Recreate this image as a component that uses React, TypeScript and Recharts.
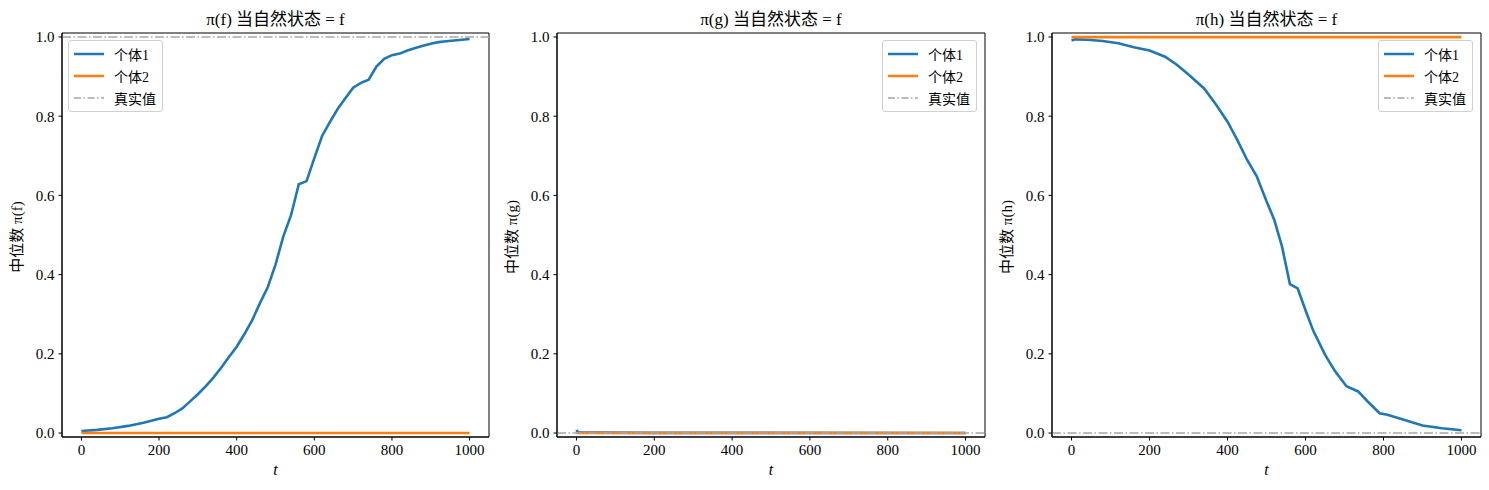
import React from 'react';
import { LineChart, Line, XAxis, YAxis, ReferenceLine, ReferenceArea } from 'recharts';

// time steps and medians
const tF = [0, 40, 80, 120, 160, 200, 220, 240, 260, 280, 300, 320, 340, 360, 380, 400, 420, 440, 460, 480, 500, 520, 540, 560, 580, 600, 620, 640, 660, 680, 700, 720, 740, 760, 780, 800, 820, 840, 860, 880, 900, 920, 940, 960, 980, 1000];
const medF1 = [0.005, 0.008, 0.012, 0.018, 0.026, 0.036, 0.04, 0.05, 0.062, 0.08, 0.098, 0.118, 0.14, 0.165, 0.192, 0.218, 0.25, 0.285, 0.328, 0.368, 0.425, 0.496, 0.55, 0.628, 0.636, 0.694, 0.75, 0.785, 0.818, 0.845, 0.872, 0.884, 0.892, 0.925, 0.945, 0.954, 0.958, 0.966, 0.972, 0.978, 0.983, 0.987, 0.989, 0.991, 0.993, 0.995];

const tG = [0, 3, 10, 50, 200, 500, 1000];
const medG1 = [0.008, 0.003, 0.001, 0.001, 0.0005, 0.0003, 0.0002];

const tH = [0, 10, 40, 80, 120, 160, 200, 240, 270, 300, 340, 370, 400, 425, 450, 475, 500, 520, 540, 560, 580, 600, 620, 650, 675, 705, 735, 760, 790, 810, 850, 900, 950, 1000];
const medH1 = [0.991, 0.994, 0.993, 0.99, 0.984, 0.974, 0.966, 0.95, 0.93, 0.905, 0.87, 0.83, 0.786, 0.74, 0.69, 0.648, 0.585, 0.538, 0.47, 0.376, 0.365, 0.31, 0.258, 0.198, 0.157, 0.118, 0.105, 0.079, 0.05, 0.046, 0.034, 0.019, 0.012, 0.007];

const tFlat = [0, 1000];
const medF2 = [0, 0];
const medG2 = [0, 0];
const medH2 = [0.9995, 0.9995];

const truthF = 1;
const truthG = 0;
const truthH = 0;

const xTicks = [0, 200, 400, 600, 800, 1000];
const yTicks = [0, 0.2, 0.4, 0.6, 0.8, 1.0];

const zip = (ts: number[], vs: number[]) => ts.map((t, i) => ({ t, v: vs[i] }));

const FONT = "'Liberation Serif', 'Noto Sans CJK SC', serif";
const BLUE = '#1f77b4';
const ORANGE = '#ff7f0e';
const GRAY = '#a6a6a6';

const panels = [
  { key: 'f', left: 0, mr: 6, one: zip(tF, medF1), two: zip(tFlat, medF2), truth: truthF, legend: 'left' },
  { key: 'g', left: 495, mr: 5, one: zip(tG, medG1), two: zip(tFlat, medG2), truth: truthG, legend: 'right' },
  { key: 'h', left: 990, mr: 4, one: zip(tH, medH1), two: zip(tFlat, medH2), truth: truthH, legend: 'right' },
];

const LegendBox = ({ side, mr }: { side: string; mr: number }) => {
  const rows = [
    { label: '个体1', color: BLUE, dash: undefined },
    { label: '个体2', color: ORANGE, dash: undefined },
    { label: '真实值', color: GRAY, dash: '7 2.5 1.5 2.5' },
  ];
  const pos: React.CSSProperties = side === 'left' ? { left: 68 } : { right: mr + 8 };
  return (
    <div
      style={{
        position: 'absolute',
        top: 40,
        ...pos,
        border: '1px solid #d0d0d0',
        borderRadius: 3,
        background: 'rgba(255,255,255,0.85)',
        padding: '2px 6px 2px 5px',
        fontFamily: FONT,
        fontSize: 14,
      }}
    >
      {rows.map((r) => (
        <div key={r.label} style={{ display: 'flex', alignItems: 'center', height: 22 }}>
          <svg width={30} height={10} style={{ marginRight: 10 }}>
            <line x1={0} y1={5} x2={30} y2={5} stroke={r.color} strokeWidth={r.dash ? 1.6 : 2.5} strokeDasharray={r.dash} />
          </svg>
          <span>{r.label}</span>
        </div>
      ))}
    </div>
  );
};

export default function App() {
  return (
    <div style={{ position: 'absolute', left: 0, top: 0, width: 1489, height: 490, background: '#fff', fontFamily: FONT }}>
      {panels.map((p) => (
        <div key={p.key} style={{ position: 'absolute', left: p.left, top: 0, width: 495, height: 490 }}>
          <LineChart width={495} height={490} margin={{ top: 33, right: p.mr, bottom: 23, left: 22 }}>
            <XAxis
              dataKey="t"
              type="number"
              domain={[-50, 1050]}
              ticks={xTicks}
              allowDataOverflow
              height={30}
              tickSize={3.5}
              tickMargin={4}
              stroke="#000"
              tick={{ fill: '#000', fontSize: 15, fontFamily: FONT }}
            />
            <YAxis
              type="number"
              domain={[-0.01, 1.01]}
              ticks={yTicks}
              allowDataOverflow
              width={40}
              tickSize={3.5}
              tickMargin={4}
              stroke="#000"
              tickFormatter={(v: number) => v.toFixed(1)}
              tick={{ fill: '#000', fontSize: 15, fontFamily: FONT }}
            />
            <ReferenceArea x1={-50} x2={1050} y1={-0.01} y2={1.01} fill="none" stroke="#000" strokeWidth={1} />
            <Line data={p.one} dataKey="v" stroke={BLUE} strokeWidth={2.6} dot={false} isAnimationActive={false} />
            <Line data={p.two} dataKey="v" stroke={ORANGE} strokeWidth={2.6} dot={false} isAnimationActive={false} />
            <ReferenceLine y={p.truth} stroke={GRAY} strokeWidth={1.6} strokeDasharray="9 2.5 1.5 2.5" />
          </LineChart>
          <div style={{ position: 'absolute', left: 62, width: 495 - 62 - p.mr, top: 5, textAlign: 'center', fontSize: 17 }}>
            π({p.key}) 当自然状态 = f
          </div>
          <div style={{ position: 'absolute', left: 62, width: 495 - 62 - p.mr, top: 461, textAlign: 'center', fontSize: 16, fontStyle: 'italic' }}>
            t
          </div>
          <div
            style={{
              position: 'absolute',
              left: 15,
              top: 237,
              transform: 'translate(-50%, -50%) rotate(-90deg)',
              whiteSpace: 'nowrap',
              fontSize: 15,
            }}
          >
            中位数 π({p.key})
          </div>
          <LegendBox side={p.legend} mr={p.mr} />
        </div>
      ))}
    </div>
  );
}
